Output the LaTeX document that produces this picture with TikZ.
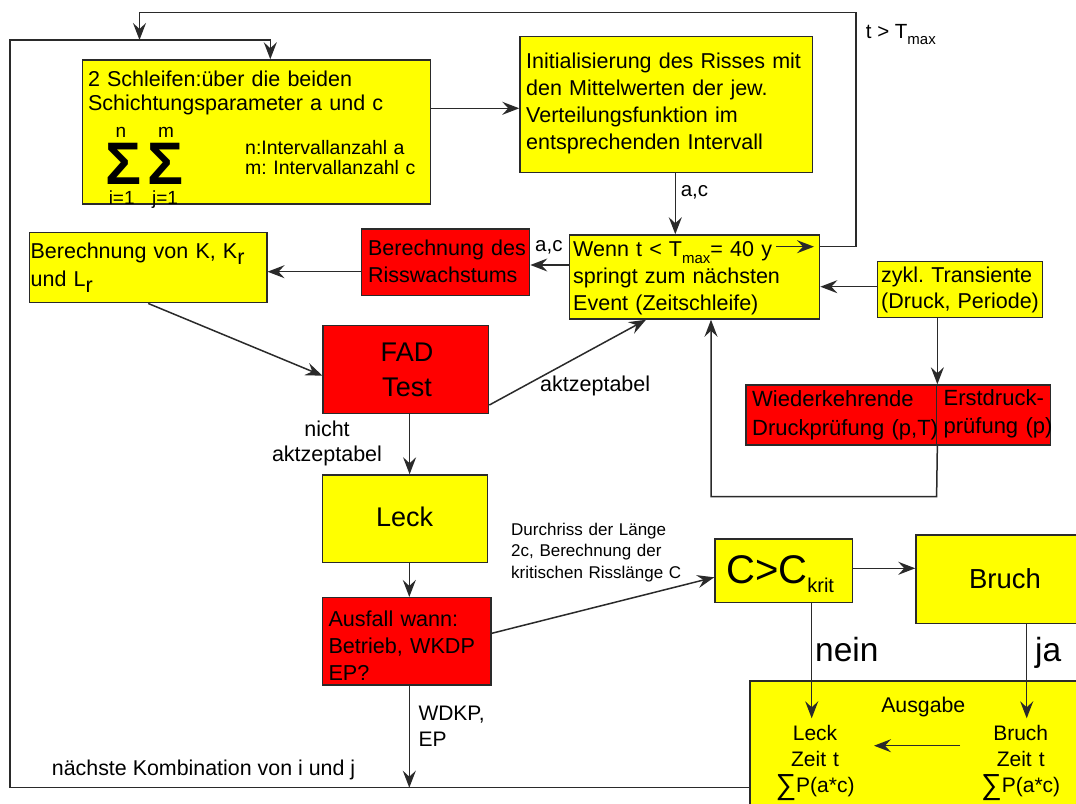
\documentclass[tikz,border=0pt]{standalone}
\usepackage{fontspec}
\setmainfont{Liberation Sans}
\usetikzlibrary{arrows.meta,fit}
\definecolor{yfill}{HTML}{FFFF00}
\definecolor{rfill}{HTML}{FF0000}
\definecolor{edge}{HTML}{2A2A2A}
\newcommand\fsz[2]{\fontsize{#1}{#2}\selectfont}
\newcommand\lowsub[1]{\raisebox{-0.3em}{\fsz{15}{15}#1}}
\newcommand\lowr{\raisebox{-0.28em}{r}}
\newcommand\bigsum{\raisebox{-0.12em}{\fsz{29}{26}∑}}
\frenchspacing
\begin{document}
\begin{tikzpicture}[x=1pt,y=-1pt,
  box/.style={draw=edge, line width=1.5pt, inner sep=0pt, rectangle},
  ybox/.style={box, fill=yfill},
  rbox/.style={box, fill=rfill},
  tl/.style={inner sep=0pt, anchor=base west, align=left},
  tc/.style={inner sep=0pt, anchor=base, align=center},
  arr/.style={draw=edge, line width=1.5pt, -{Stealth[length=17pt,width=13pt,inset=6pt]}},
  ln/.style={draw=edge, line width=1.5pt}]
\useasboundingbox (0,0) rectangle (1076,803);
\clip (0,0) rectangle (1076,803);
\fill[white] (0,0) rectangle (1076,803);

% boxes
\node[ybox, fit={(82.6,60)(430.4,204)}] (b1) {};
\node[ybox, fit={(520,36.7)(812.6,172.3)}] (b2) {};
\node[ybox, fit={(569.6,235)(819.6,319)}] (wenn) {};
\node[ybox, fit={(877.4,261.7)(1042.3,317.7)}] (zykl) {};
\node[rbox, fit={(361.4,229)(529.6,295.7)}] (riss) {};
\node[ybox, fit={(29.3,232.3)(266.8,302.7)}] (bk) {};
\node[rbox, fit={(323.2,325.7)(488.6,413.3)}] (fad) {};
\node[rbox, fit={(746,385)(936.6,445)}] (wied) {};
\node[rbox, fit={(936.6,385)(1050.4,445)}] (erst) {};
\node[ybox, fit={(322.7,475)(487.7,562.7)}] (leck) {};
\node[rbox, fit={(322.7,597.7)(491,685)}] (ausfall) {};
\node[ybox, fit={(715,539)(852.3,602.7)}] (cc) {};
\node[ybox, fit={(916,535)(1100,623.3)}] (bruch) {};
\node[ybox, fit={(750,681)(1100,830)}] (ausgabe) {};

% texts in boxes
\node[tl, text width=330pt, font=\fsz{21.5}{23.3}] (b1t) at (87.8,86.7) {2 Schleifen:über die beiden\\Schichtungsparameter a und c};
\node[inner sep=0pt, font=\fsz{60}{60}\bfseries] (s1) at (124,164) {Σ};
\node[inner sep=0pt, font=\fsz{60}{60}\bfseries] (s2) at (166,164) {Σ};
\node[tc, font=\fsz{19}{19}] (sn) at (121,137) {n};
\node[tc, font=\fsz{19}{19}] (sm) at (166,137) {m};
\node[tc, font=\fsz{19}{19}] (si) at (121.7,204) {i=1};
\node[tc, font=\fsz{19}{19}] (sj) at (165,204) {j=1};
\node[tl, text width=180pt, font=\fsz{19.5}{20}] (nm) at (245,154) {n:Intervallanzahl a\\m: Intervallanzahl c};
\node[tl, text width=285pt, font=\fsz{21.5}{27.2}] (b2t) at (526,68.3) {Initialisierung des Risses mit\\den Mittelwerten der jew.\\Verteilungsfunktion im\\entsprechenden Intervall};
\node[tl, text width=245pt, font=\fsz{21.5}{26.7}] (wennt) at (573,256.7) {Wenn t < T\lowsub{max}= 40 y\\springt zum nächsten\\Event (Zeitschleife)};
\node[tl, text width=165pt, font=\fsz{21.5}{25.6}] (zyklt) at (881,282.7) {zykl. Transiente\\(Druck, Periode)};
\node[tl, text width=165pt, font=\fsz{21.5}{27.7}] (risst) at (367.9,255) {Berechnung des\\Risswachstums};
\node[tl, text width=235pt, font=\fsz{21.5}{27.7}] (bkt) at (30.4,258.3) {Berechnung von K, K\lowr\\und L\lowr};
\node[tc, text width=160pt, font=\fsz{27}{35}] (fadt) at (407,361.7) {FAD\\Test};
\node[tl, text width=190pt, font=\fsz{22}{28.3}] (wiedt) at (752,406.7) {Wiederkehrende\\Druckprüfung (p,T)};
\node[tl, text width=115pt, font=\fsz{22}{28.3}] (erstt) at (943.4,405) {Erstdruck-\\prüfung (p)};
\node[tc, font=\fsz{27}{27}] (leckt) at (404.7,526.7) {Leck};
\node[tl, text width=165pt, font=\fsz{21.6}{26.7}] (ausfallt) at (328.3,626.7) {Ausfall wann:\\Betrieb, WKDP\\EP?};
\node[tl, font=\fsz{40}{40}] (cct) at (726,583.3) {C>C\raisebox{-9pt}{\fsz{20}{20}krit}};
\node[tc, font=\fsz{27.5}{27.5}] (brucht) at (1005,588.3) {Bruch};
\node[tc, font=\fsz{21.3}{21.3}] (ausgt) at (923.3,712.7) {Ausgabe};
\node[tc, text width=120pt, font=\fsz{21}{26}] (lcol) at (815,740) {Leck\\Zeit t\\\bigsum P(a*c)};
\node[tc, text width=120pt, font=\fsz{21}{26}] (bcol) at (1020.7,740) {Bruch\\Zeit t\\\bigsum P(a*c)};

% labels
\node[tl, font=\fsz{20.5}{20.5}] (ac1) at (680.6,196.7) {a,c};
\node[tl, font=\fsz{20.5}{20.5}] (ac2) at (535,251.7) {a,c};
\node[tl, font=\fsz{20.5}{20.5}] (tmax) at (865.7,38.3) {t > T\lowsub{max}};
\node[tc, text width=130pt, font=\fsz{21.5}{25.7}] (nakz) at (327,436) {nicht\\aktzeptabel};
\node[tl, font=\fsz{21.5}{21.5}] (akz) at (540,391.7) {aktzeptabel};
\node[tl, text width=200pt, font=\fsz{17}{21.7}] (durch) at (511,535) {Durchriss der Länge\\2c, Berechnung der\\kritischen Risslänge C};
\node[tl, text width=80pt, font=\fsz{21}{26}] (wdkp) at (418.3,720.7) {WDKP,\\EP};
\node[tl, font=\fsz{33.5}{33.5}] (nein) at (815,661.7) {nein};
\node[tl, font=\fsz{33.5}{33.5}] (ja) at (1035,661.7) {ja};
\node[tl, font=\fsz{21.4}{21.4}] (naechst) at (51.7,775) {nächste Kombination von i und j};

% coordinates
\coordinate (bl) at (409.3,787.7);
\coordinate (olj) at (139.5,40);
\coordinate (neinend) at (811.7,718.3);
\coordinate (jaend) at (1026.7,718.3);
\coordinate (inA) at (960,745.7);
\coordinate (inB) at (874,745.7);
\coordinate (wa) at (776,246.7);
\coordinate (wb) at (814,246.7);

% connectors
\draw[arr] (b1.east |- 0,108.3) -- (b2.west |- 0,108.3);
\draw[arr] (b2.south -| 675.3,0) -- (wenn.north -| 675.3,0);
\draw[arr] (wenn.west |- 0,265) -- (riss.east |- 0,265);
\draw[arr] (riss.west |- 0,271.7) -- (bk.east |- 0,271.7);
\draw[arr] (bk.south -| 148.2,0) -- (fad.west |- 0,375.7);
\draw[arr] (fad.south -| 409.6,0) -- (leck.north -| 409.6,0);
\draw[arr] (fad.east |- 0,405) -- (wenn.south -| 646,0);
\draw[arr] (zykl.west |- 0,286.7) -- (wenn.east |- 0,286.7);
\draw[arr] (zykl.south -| wied.north east) -- (wied.north east);
\draw[arr] (wied.south east) -- (936.6,496.7) -| (wenn.south -| 711,0);
\draw[arr] (leck.south -| 409.3,0) -- (ausfall.north -| 409.3,0);
\draw[arr] (ausfall.east |- 0,633.3) -- (cc.west |- 0,577.3);
\draw[arr] (ausfall.south -| bl) -- (bl);
\draw[arr] (cc.east |- 0,568.3) -- (bruch.west |- 0,568.3);
\draw[arr] (cc.south -| neinend) -- (neinend);
\draw[arr] (bruch.south -| jaend) -- (jaend);
\draw[arr] (inA) -- (inB);
\draw[arr] (wa) -- (wb);
\draw[arr] (ausgabe.west |- bl) -- (10,787.7) -- (10,40) -| (b1.north -| 270.3,0);
\draw[arr] (wenn.east |- 0,246.7) -- (856,246.7) -- (856,12.3) -| (olj);
\end{tikzpicture}
\end{document}
